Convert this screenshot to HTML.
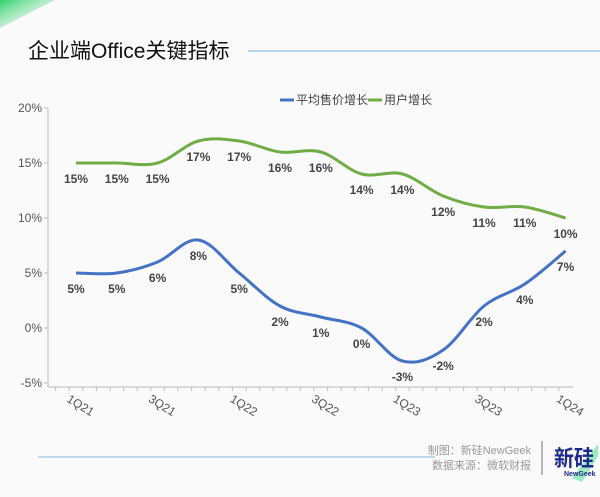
<!DOCTYPE html>
<html><head><meta charset="utf-8"><style>
body{margin:0;background:#fafafa;width:600px;height:492px;overflow:hidden;font-family:"Liberation Sans","Noto Sans CJK SC",sans-serif}
</style></head><body>
<svg width="600" height="492" xmlns="http://www.w3.org/2000/svg">
<defs><linearGradient id="g1" x1="0" y1="0" x2="1" y2="1"><stop offset="0" stop-color="#2ecf6a"/><stop offset="1" stop-color="#d8f5e0" stop-opacity="0"/></linearGradient></defs>
<polygon points="0,0 55,0 0,28" fill="url(#g1)"/>
<text x="28" y="58" font-size="21" fill="#111">企业端Office关键指标</text>
<line x1="248" y1="51" x2="600" y2="51" stroke="#9cc7e3" stroke-width="1.5"/>
<g font-size="12" fill="#444">
<line x1="280" y1="100" x2="294" y2="100" stroke="#4472c4" stroke-width="3"/>
<text x="296" y="104">平均售价增长</text>
<line x1="368" y1="100" x2="382" y2="100" stroke="#70ad47" stroke-width="3"/>
<text x="384" y="104">用户增长</text>
</g>
<g id="axes"></g>
<g id="series"></g>
<g>
<line x1="38" y1="457" x2="435" y2="457" stroke="#9cc7e3" stroke-width="1.2"/>
<text x="531" y="454" font-size="11" fill="#999" text-anchor="end">制图：新硅NewGeek</text>
<text x="531" y="469" font-size="11" fill="#999" text-anchor="end">数据来源：微软财报</text>
<line x1="542" y1="441" x2="542" y2="475" stroke="#777"/>
<polygon points="572,478 598,444 598,456 582,482" fill="#5de39a" opacity="0.6"/>
<text x="554" y="466" font-size="22" font-weight="bold" fill="#1d2a8a" textLength="40" lengthAdjust="spacingAndGlyphs">新硅</text>
<text x="564" y="476" font-size="7" font-weight="bold" fill="#1d2a8a">NewGeek</text>
</g>
</svg>
<script>
const categories=["1Q21","2Q21","3Q21","4Q21","1Q22","2Q22","3Q22","4Q22","1Q23","2Q23","3Q23","4Q23","1Q24"];
const priceGrowth=[5,5,6,8,5,2,1,0,-3,-2,2,4,7];
const userGrowth=[15,15,15,17,17,16,16,14,14,12,11,11,10];
const yTicks=[-5,0,5,10,15,20];
const xLabels=["1Q21","3Q21","1Q22","3Q22","1Q23","3Q23","1Q24"];
const NS="http://www.w3.org/2000/svg";
const x0=76,dx=40.8,y0=328,ky=11;
const X=i=>x0+i*dx, Y=v=>y0-v*ky;
function mk(tag,attrs,parent){const e=document.createElementNS(NS,tag);for(const k in attrs)e.setAttribute(k,attrs[k]);parent.appendChild(e);return e;}
const ax=document.getElementById('axes');
const yl=mk('line',{x1:48,y1:Y(20),x2:48,y2:Y(-5)+4,stroke:'#bbb'},ax);


yTicks.forEach(v=>{
 const t=mk('text',{x:42,y:Y(v)+4,'font-size':12,fill:'#555','text-anchor':'end'},ax);t.textContent=v+'%';
 
 
 mk('line',{x1:44,y1:Y(v),x2:48,y2:Y(v),stroke:'#bbb'},ax);
});
const xl=mk('line',{x1:48,y1:Y(-5)+4,x2:X(12)+8,y2:Y(-5)+4,stroke:'#bbb'},ax);


for(let k=0;k<=37;k++){const xx=X(0)-dx/2+k*dx/3;if(xx>X(12)+8)break;mk('line',{x1:xx,y1:Y(-5)+4,x2:xx,y2:Y(-5)+8,stroke:'#bbb'},ax);}
categories.forEach((c,i)=>{
 if(!xLabels.includes(c))return;
 const t=mk('text',{x:X(i)-10,y:Y(-5)+18,'font-size':12,fill:'#555',transform:`rotate(32 ${X(i)-10} ${Y(-5)+18})`},ax);t.textContent=c;
 
 
});
function smooth(pts){let d=`M${pts[0][0]},${pts[0][1]}`;for(let i=0;i<pts.length-1;i++){const p0=pts[i-1]||pts[i],p1=pts[i],p2=pts[i+1],p3=pts[i+2]||p2;const t=0.17;
d+=` C${p1[0]+(p2[0]-p0[0])*t},${p1[1]+(p2[1]-p0[1])*t} ${p2[0]-(p3[0]-p1[0])*t},${p2[1]-(p3[1]-p1[1])*t} ${p2[0]},${p2[1]}`;}return d;}
const sg=document.getElementById('series');
[[userGrowth,'#70ad47','users'],[priceGrowth,'#4472c4','price']].forEach(([data,col,nm])=>{
 const p=mk('path',{d:smooth(data.map((v,i)=>[X(i),Y(v)])),fill:'none',stroke:col,'stroke-width':3},sg);
 
 
 data.forEach((v,i)=>{
  const t=mk('text',{x:X(i),y:Y(v)+20,'font-size':12,'font-weight':'bold',fill:'#444','text-anchor':'middle'},sg);t.textContent=v+'%';
  
  
 });
});
</script>
</body></html>
